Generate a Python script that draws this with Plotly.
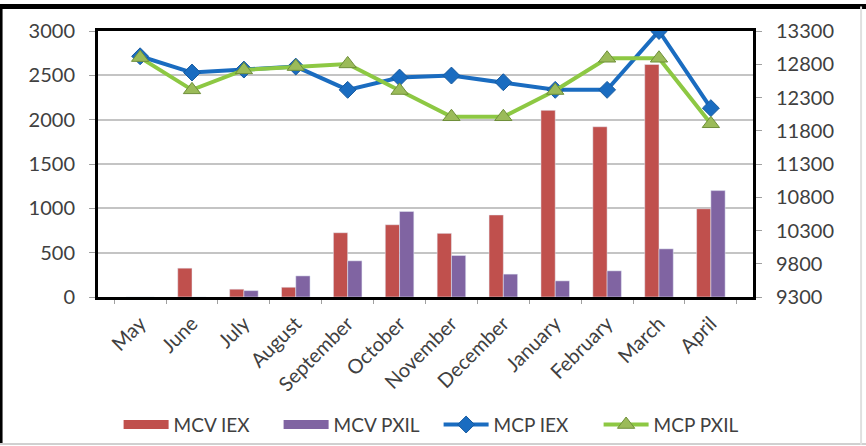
import plotly.graph_objects as go

# Monthly market clearing volume (MCV) and price (MCP) for two exchanges
months = ["May", "June", "July", "August", "September", "October",
          "November", "December", "January", "February", "March", "April"]
mcv_iex = [0, 325, 88, 110, 725, 815, 718, 925, 2105, 1920, 2622, 995]
mcv_pxil = [0, 0, 72, 238, 408, 965, 468, 258, 182, 295, 543, 1200]
mcp_iex = [12920, 12675, 12720, 12765, 12415, 12600, 12630, 12530, 12415, 12415, 13300, 12140]
mcp_pxil = [12900, 12415, 12715, 12765, 12805, 12405, 12010, 12010, 12405, 12890, 12890, 11905]

left_ticks = [0, 500, 1000, 1500, 2000, 2500, 3000]
right_ticks = [9300, 9800, 10300, 10800, 11300, 11800, 12300, 12800, 13300]

RED = "#C0504D"
PURPLE = "#8064A2"
BLUE = "#1A6CC0"
GREEN = "#8DC843"
TXT = "#404040"
FONT = "Lato"

fig = go.Figure()

fig.add_trace(go.Bar(x=months, y=mcv_iex, name="MCV IEX", marker_color=RED,
                     showlegend=False, legendgroup="a"))
fig.add_trace(go.Bar(x=months, y=mcv_pxil, name="MCV PXIL", marker_color=PURPLE,
                     showlegend=False, legendgroup="b"))

# Flat swatches for the bar series in the legend
fig.add_trace(go.Scatter(x=[None], y=[None], mode="lines", name="MCV IEX",
                         line=dict(color=RED, width=9), legendgroup="a"))
fig.add_trace(go.Scatter(x=[None], y=[None], mode="lines", name="MCV PXIL",
                         line=dict(color=PURPLE, width=9), legendgroup="b"))

fig.add_trace(go.Scatter(x=months, y=mcp_iex, name="MCP IEX", yaxis="y2",
                         mode="lines+markers",
                         line=dict(color=BLUE, width=4),
                         marker=dict(symbol="diamond", size=13, color=BLUE,
                                     line=dict(color="#175A9E", width=1))))
fig.add_trace(go.Scatter(x=months, y=mcp_pxil, name="MCP PXIL", yaxis="y2",
                         mode="lines+markers",
                         line=dict(color=GREEN, width=4),
                         marker=dict(symbol="triangle-up", size=15, color="#9BBB59",
                                     line=dict(color="#6F8F3A", width=1))))

# Outer frame of the figure
frame = [
    dict(x0=-0.15, x1=1.175, y0=1.092, y1=1.092, color="black", width=5),
    dict(x0=-0.148, x1=-0.148, y0=-0.555, y1=1.092, color="black", width=3),
    dict(x0=-0.15, x1=1.175, y0=-0.553, y1=-0.553, color="#D0D0D0", width=2),
    dict(x0=1.165, x1=1.165, y0=-0.555, y1=1.092, color="#E0E0E0", width=2),
]
shapes = [dict(type="line", xref="paper", yref="paper", x0=f["x0"], x1=f["x1"],
               y0=f["y0"], y1=f["y1"], line=dict(color=f["color"], width=f["width"]))
          for f in frame]

fig.update_layout(
    width=866, height=446,
    margin=dict(l=98, r=113, t=31, b=149, autoexpand=False),
    paper_bgcolor="white", plot_bgcolor="white",
    font=dict(family=FONT, size=20, color=TXT),
    barmode="group", bargap=0.45, bargroupgap=0,
    shapes=shapes,
    xaxis=dict(
        showline=True, linecolor="black", linewidth=3, mirror=True,
        tickangle=-45, tickfont=dict(size=20, color=TXT),
        ticks="outside", tickson="boundaries", ticklen=4, tickcolor="#A0A0A0",
        ticklabelstandoff=4,
        showgrid=False, automargin=False,
    ),
    yaxis=dict(
        range=[0, 3000], tickvals=left_ticks,
        showline=True, linecolor="black", linewidth=3, mirror=True,
        ticks="outside", ticklen=6, tickcolor="#A0A0A0", ticklabelstandoff=10,
        showgrid=True, gridcolor="#C4C4C4", gridwidth=2,
        zeroline=False, tickfont=dict(size=20, color=TXT), automargin=False,
    ),
    yaxis2=dict(
        range=[9300, 13300], tickvals=right_ticks, tickformat="d",
        overlaying="y", side="right",
        showline=True, linecolor="black", linewidth=3,
        ticks="outside", ticklen=6, tickcolor="#A0A0A0", ticklabelstandoff=10,
        showgrid=False, zeroline=False, tickfont=dict(size=20, color=TXT),
        automargin=False,
    ),
    legend=dict(
        orientation="h", x=0.52, xanchor="center",
        y=-0.48, yanchor="middle",
        font=dict(size=19, color=TXT), itemwidth=45,
        entrywidth=100, entrywidthmode="pixels",
        bgcolor="rgba(0,0,0,0)", traceorder="normal",
    ),
)

fig.write_html("out.html")
